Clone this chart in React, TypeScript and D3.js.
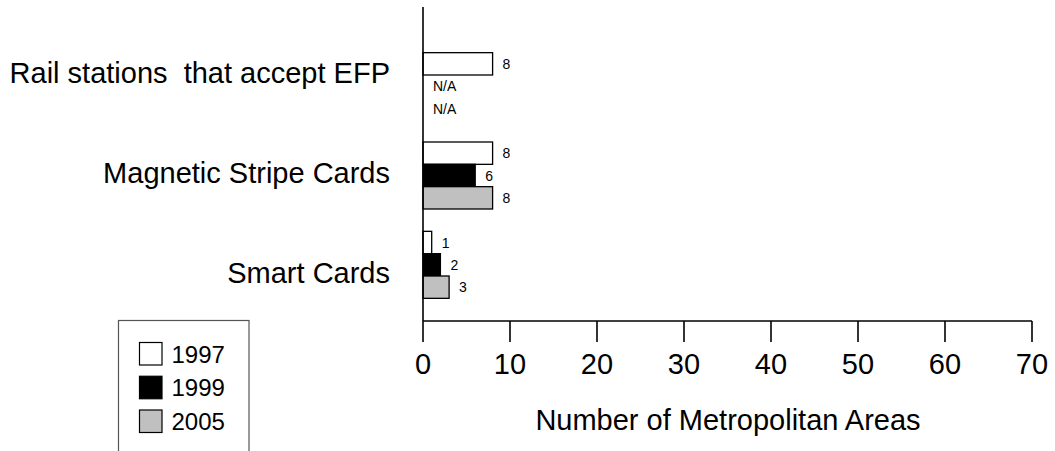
import React from "react";
import * as d3 from "d3";

const categories = ["Rail stations  that accept EFP", "Magnetic Stripe Cards", "Smart Cards"];
const years = ["1997", "1999", "2005"];
const values1997: (number | null)[] = [8, 8, 1];
const values1999: (number | null)[] = [null, 6, 2];
const values2005: (number | null)[] = [null, 8, 3];
const xTicks = [0, 10, 20, 30, 40, 50, 60, 70];
const colors = ["#ffffff", "#000000", "#c0c0c0"];
const xTitle = "Number of Metropolitan Areas";

const W = 1055;
const H = 451;

export default function App() {
  const series = [values1997, values1999, values2005];
  const x = d3.scaleLinear().domain([0, 70]).range([423, 1032]);
  const y = d3
    .scaleBand<string>()
    .domain(categories)
    .range([41.5, 309.5])
    .paddingInner(0.25)
    .paddingOuter(0.125);
  const sub = d3.scaleBand<string>().domain(years).range([0, y.bandwidth()]);
  const labelY = d3.scalePoint<string>().domain(categories).range([83, 283]);
  const legendY = d3.scalePoint<string>().domain(years).range([342.5, 410]);
  const font = "Arial, 'Liberation Sans', sans-serif";

  return (
    <svg
      width={W}
      height={H}
      style={{ position: "absolute", left: 0, top: 0, background: "#fff" }}
      fontFamily={font}
    >
      {/* category labels */}
      {categories.map((c) => (
        <text
          key={c}
          x={390}
          y={labelY(c)}
          textAnchor="end"
          fontSize={29}
          fill="#000"
          style={{ whiteSpace: "pre" }}
        >
          {c}
        </text>
      ))}

      {/* bars */}
      {categories.map((c, ci) =>
        years.map((yr, si) => {
          const v = series[si][ci];
          const by = (y(c) as number) + (sub(yr) as number);
          const bh = sub.bandwidth();
          if (v === null) {
            return (
              <text
                key={c + yr}
                x={x(0) + 10}
                y={by + bh / 2}
                dominantBaseline="central"
                fontSize={14}
                fill="#000"
              >
                N/A
              </text>
            );
          }
          return (
            <g key={c + yr}>
              <rect
                x={x(0)}
                y={by}
                width={x(v) - x(0)}
                height={bh}
                fill={colors[si]}
                stroke="#000"
                strokeWidth={1.3}
              />
              <text
                x={x(v) + 10}
                y={by + bh / 2}
                dominantBaseline="central"
                fontSize={14}
                fill="#000"
              >
                {v}
              </text>
            </g>
          );
        })
      )}

      {/* axes */}
      <line x1={x(0)} x2={x(0)} y1={7} y2={321} stroke="#000" strokeWidth={1.6} />
      <line x1={x(0)} x2={x(70)} y1={321} y2={321} stroke="#000" strokeWidth={1.6} />
      {xTicks.map((t) => (
        <g key={t}>
          <line x1={x(t)} x2={x(t)} y1={321} y2={342} stroke="#000" strokeWidth={1.6} />
          <text x={x(t)} y={374} textAnchor="middle" fontSize={29} fill="#000">
            {t}
          </text>
        </g>
      ))}
      <text x={728} y={430} textAnchor="middle" fontSize={29} fill="#000">
        {xTitle}
      </text>

      {/* legend */}
      <rect x={118.5} y={320.5} width={130.5} height={150} fill="#fff" stroke="#555" strokeWidth={1.2} />
      {years.map((yr, i) => (
        <g key={yr}>
          <rect
            x={139.5}
            y={legendY(yr)}
            width={22.5}
            height={22.5}
            fill={colors[i]}
            stroke="#000"
            strokeWidth={1.2}
          />
          <text x={171.5} y={(legendY(yr) as number) + 20} fontSize={24} fill="#000">
            {yr}
          </text>
        </g>
      ))}
    </svg>
  );
}
